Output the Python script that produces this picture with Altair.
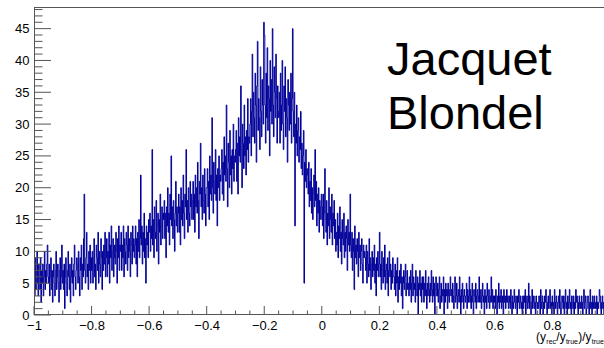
import altair as alt
import pandas as pd

# ---- histogram contents (1000 bins from -1 to 1) ----
counts = [
    6, 3, 9, 4, 7, 10, 5, 3, 8, 6, 4, 9, 2, 7, 5, 8, 3, 6, 10, 4, 7, 5, 8, 11, 6,
    5, 8, 3, 6, 9, 4, 7, 2, 6, 8, 5, 3, 7, 10, 4, 6, 8, 5, 2, 7, 9, 4, 6, 11, 5,
    7, 4, 8, 1, 6, 9, 5, 3, 7, 10, 6, 4, 8, 2, 6, 9, 5, 7, 3, 8, 11, 6, 4, 7, 9,
    8, 5, 10, 6, 3, 9, 7, 11, 4, 8, 6, 12, 19, 7, 5, 9, 13, 6, 8, 4, 10, 7, 11, 5, 9,
    7, 10, 5, 9, 12, 6, 8, 4, 11, 9, 7, 13, 5, 10, 8, 6, 12, 9, 4, 10, 7, 11, 8, 13, 6,
    9, 12, 6, 10, 8, 13, 5, 11, 9, 14, 7, 10, 12, 6, 9, 11, 8, 13, 10, 5, 12, 9, 14, 7, 11,
    10, 13, 7, 11, 9, 14, 6, 12, 10, 8, 13, 11, 7, 14, 9, 12, 10, 6, 13, 11, 8, 14, 10, 12, 9,
    11, 14, 8, 12, 6, 13, 10, 15, 9, 12, 22, 11, 14, 8, 13, 10, 16, 9, 12, 5, 14, 11, 13, 9, 15,
    13, 16, 10, 14, 12, 26, 11, 15, 9, 17, 13, 12, 18, 10, 14, 16, 8, 15, 13, 19, 11, 14, 17, 12, 16,
    15, 18, 12, 16, 9, 17, 14, 20, 13, 16, 11, 19, 15, 25, 14, 17, 12, 18, 15, 10, 16, 21, 14, 17, 13,
    16, 19, 13, 17, 11, 20, 15, 18, 14, 22, 16, 12, 19, 17, 26, 15, 18, 13, 20, 16, 14, 21, 17, 19, 15,
    18, 21, 15, 19, 13, 22, 17, 20, 16, 24, 18, 12, 21, 19, 27, 17, 20, 15, 22, 18, 16, 23, 19, 14, 20,
    20, 23, 17, 21, 15, 25, 19, 22, 18, 31, 20, 16, 24, 21, 19, 26, 18, 22, 14, 23, 20, 25, 18, 22, 21,
    23, 26, 19, 24, 18, 28, 22, 25, 21, 33, 23, 17, 27, 24, 20, 29, 22, 25, 19, 26, 23, 30, 21, 25, 24,
    26, 29, 21, 27, 19, 31, 25, 28, 24, 36, 26, 20, 30, 27, 23, 33, 25, 28, 22, 29, 26, 34, 24, 28, 27,
    30, 34, 25, 32, 41, 28, 35, 31, 27, 38, 33, 24, 36, 43, 29, 34, 31, 26, 39, 32, 28, 37, 33, 30, 46,
    44, 33, 27, 38, 31, 42, 29, 36, 34, 25, 40, 32, 37, 30, 45, 33, 28, 39, 35, 31, 41, 34, 27, 36, 32,
    31, 35, 27, 38, 29, 33, 40, 30, 26, 36, 32, 39, 28, 34, 31, 24, 37, 33, 29, 35, 30, 38, 27, 34, 45,
    32, 28, 35, 14, 30, 27, 33, 25, 29, 31, 24, 28, 26, 32, 23, 27, 22, 25, 29, 5, 24, 21, 26, 20, 23,
    22, 19, 24, 17, 21, 18, 23, 16, 20, 15, 19, 22, 17, 26, 18, 21, 14, 19, 16, 20, 13, 18, 17, 15, 19,
    17, 14, 19, 12, 16, 23, 15, 13, 18, 11, 16, 14, 20, 12, 17, 15, 13, 19, 11, 16, 14, 18, 12, 15, 10,
    13, 11, 16, 9, 14, 12, 17, 10, 13, 8, 15, 12, 11, 16, 9, 13, 10, 14, 12, 7, 15, 11, 13, 10, 19,
    11, 9, 13, 7, 12, 10, 4, 14, 9, 11, 8, 12, 10, 6, 13, 9, 11, 7, 10, 12, 8, 5, 11, 9, 10,
    9, 7, 11, 5, 10, 8, 6, 12, 7, 9, 4, 8, 10, 6, 9, 7, 11, 5, 8, 3, 9, 7, 10, 6, 8,
    13, 6, 8, 4, 10, 7, 5, 9, 6, 11, 4, 7, 8, 5, 9, 3, 7, 10, 6, 8, 4, 7, 5, 9, 6,
    6, 4, 8, 3, 7, 5, 9, 2, 6, 4, 7, 5, 8, 3, 6, 1, 5, 7, 4, 6, 8, 3, 5, 7, 4,
    5, 3, 6, 4, 7, 2, 5, 8, 3, 6, 4, 5, 2, 7, 4, 3, 6, 0, 5, 4, 7, 3, 5, 2, 6,
    4, 6, 2, 5, 3, 7, 4, 1, 5, 3, 6, 4, 2, 5, 3, 7, 4, 2, 6, 3, 5, 0, 4, 6, 3,
    3, 5, 2, 4, 6, 1, 3, 5, 2, 4, 3, 6, 0, 4, 2, 5, 3, 4, 1, 5, 3, 2, 4, 6, 3,
    4, 2, 5, 3, 1, 4, 6, 2, 3, 5, 1, 3, 4, 2, 6, 3, 0, 4, 2, 5, 3, 1, 4, 3, 2,
    3, 5, 1, 4, 2, 3, 6, 2, 4, 1, 3, 5, 2, 0, 4, 3, 2, 5, 1, 3, 4, 2, 3, 6, 2,
    2, 4, 1, 3, 5, 2, 3, 0, 4, 2, 3, 1, 5, 3, 2, 4, 1, 2, 3, 6, 2, 4, 1, 3, 2,
    3, 1, 4, 2, 0, 3, 2, 5, 1, 3, 2, 4, 1, 2, 3, 0, 4, 2, 3, 1, 2, 4, 2, 3, 1,
    2, 3, 1, 4, 2, 0, 3, 1, 2, 4, 2, 1, 3, 2, 0, 3, 2, 4, 1, 2, 3, 1, 2, 0, 3,
    1, 3, 2, 4, 0, 2, 3, 1, 2, 5, 1, 3, 2, 0, 2, 4, 1, 2, 3, 1, 2, 0, 3, 2, 1,
    2, 1, 3, 2, 0, 4, 1, 2, 3, 0, 2, 1, 3, 2, 4, 1, 0, 2, 3, 1, 2, 4, 1, 2, 0,
    3, 1, 2, 0, 4, 2, 1, 3, 2, 0, 2, 3, 1, 4, 2, 0, 1, 3, 2, 1, 3, 0, 2, 4, 1,
    2, 0, 3, 1, 2, 4, 1, 2, 0, 3, 2, 1, 3, 0, 2, 1, 4, 2, 3, 1, 0, 2, 3, 1, 2,
    1, 3, 2, 0, 2, 4, 1, 2, 3, 0, 1, 2, 3, 1, 0, 2, 4, 1, 2, 0, 3, 1, 2, 3, 1,
    2, 1, 3, 0, 2, 1, 2, 4, 3, 1, 0, 2, 3, 1, 2, 0, 3, 1, 2, 4, 1, 2, 0, 3, 2,
]
x_low, x_high = -1.0, 1.0

# ---- axis tick positions ----
x_major = [-1, -0.8, -0.6, -0.4, -0.2, 0, 0.2, 0.4, 0.6, 0.8]
x_minor = [-0.95, -0.9, -0.85, -0.75, -0.7, -0.65, -0.55, -0.5, -0.45,
           -0.35, -0.3, -0.25, -0.15, -0.1, -0.05, 0.05, 0.1, 0.15,
           0.25, 0.3, 0.35, 0.45, 0.5, 0.55, 0.65, 0.7, 0.75, 0.85, 0.9, 0.95]
y_major = [0, 5, 10, 15, 20, 25, 30, 35, 40, 45]
y_minor = [v for v in range(1, 49) if v % 5 != 0]

label_lines = ["Jacquet", "Blondel"]
title_parts = ["(y", "rec", "/y", "true", ")/y", "true"]

FONT = "Liberation Sans"
W, H = 570, 308
x_dom = [-1.0, -1.0 + W / 287.8]
y_dom = [0, 48.4]
AX = "#555555"

n = len(counts)
bw = (x_high - x_low) / n
edges = [x_low + i * bw for i in range(n + 1)]
hist = pd.DataFrame({"x": edges, "y": counts + [counts[-1]]})

xs = alt.Scale(domain=x_dom, nice=False, zero=False)
ys = alt.Scale(domain=y_dom, nice=False, zero=False)

xaxis = alt.Axis(values=x_major, format="~g", ticks=False, tickSize=0, domain=False,
                 grid=False, labelFont=FONT, labelFontSize=13, labelColor="black",
                 labelPadding=4, labelFlush=False, labelOverlap=False, title=None)
yaxis = alt.Axis(values=y_major, format="~g", ticks=False, tickSize=0, domain=False,
                 grid=False, labelFont=FONT, labelFontSize=13, labelColor="black",
                 labelPadding=5, labelOverlap=False, title=None)

line = alt.Chart(hist).mark_line(interpolate="step-after", color="#000099",
                                 strokeWidth=1, clip=True).encode(
    x=alt.X("x:Q", scale=xs, axis=xaxis),
    y=alt.Y("y:Q", scale=ys, axis=yaxis),
)

xmaj = alt.Chart(pd.DataFrame({"x": x_major})).mark_rule(color=AX, strokeWidth=1).encode(
    x=alt.X("x:Q", scale=xs, axis=xaxis), y=alt.value(H), y2=alt.value(H - 9))
xmin = alt.Chart(pd.DataFrame({"x": x_minor})).mark_rule(color=AX, strokeWidth=1).encode(
    x=alt.X("x:Q", scale=xs, axis=xaxis), y=alt.value(H), y2=alt.value(H - 4.5))
ymaj = alt.Chart(pd.DataFrame({"y": y_major})).mark_rule(color=AX, strokeWidth=1).encode(
    y=alt.Y("y:Q", scale=ys, axis=yaxis), x=alt.value(0), x2=alt.value(17))
ymin = alt.Chart(pd.DataFrame({"y": y_minor})).mark_rule(color=AX, strokeWidth=1).encode(
    y=alt.Y("y:Q", scale=ys, axis=yaxis), x=alt.value(0), x2=alt.value(8.5))

one = pd.DataFrame({"k": [0]})
frame_left = alt.Chart(one).mark_rule(color=AX).encode(
    x=alt.value(0.5), y=alt.value(0), y2=alt.value(H))
frame_bottom = alt.Chart(one).mark_rule(color=AX).encode(
    y=alt.value(H - 0.5), x=alt.value(0), x2=alt.value(W))
frame_top = alt.Chart(one).mark_rule(color=AX).encode(
    y=alt.value(0.5), x=alt.value(0), x2=alt.value(W))

texts = []
for txt, ty in zip(label_lines, [68, 122]):
    texts.append(alt.Chart(pd.DataFrame({"t": [txt]})).mark_text(
        align="left", baseline="alphabetic", font=FONT, fontSize=47, color="black"
    ).encode(text="t:N", x=alt.value(353), y=alt.value(ty)))

title_x = [502, 512.3, 522.3, 531.9, 544.2, 557.8]
title_y = [333.5, 337, 333.5, 337, 333.5, 337]
title_s = [12, 7, 12, 7, 12, 7]
for txt, tx, ty, ts in zip(title_parts, title_x, title_y, title_s):
    texts.append(alt.Chart(pd.DataFrame({"t": [txt]})).mark_text(
        align="left", baseline="alphabetic", font=FONT, fontSize=ts, color="black"
    ).encode(text="t:N", x=alt.value(tx), y=alt.value(ty)))

chart = alt.layer(line, xmaj, xmin, ymaj, ymin, frame_left, frame_bottom, frame_top,
                  *texts).properties(
    width=W, height=H,
    autosize=alt.AutoSizeParams(type="none"),
    padding={"left": 34, "top": 7, "right": 0, "bottom": 33},
    background="white",
).configure_view(stroke=None)

chart.save("out.html", embed_options={"renderer": "svg", "actions": False})
